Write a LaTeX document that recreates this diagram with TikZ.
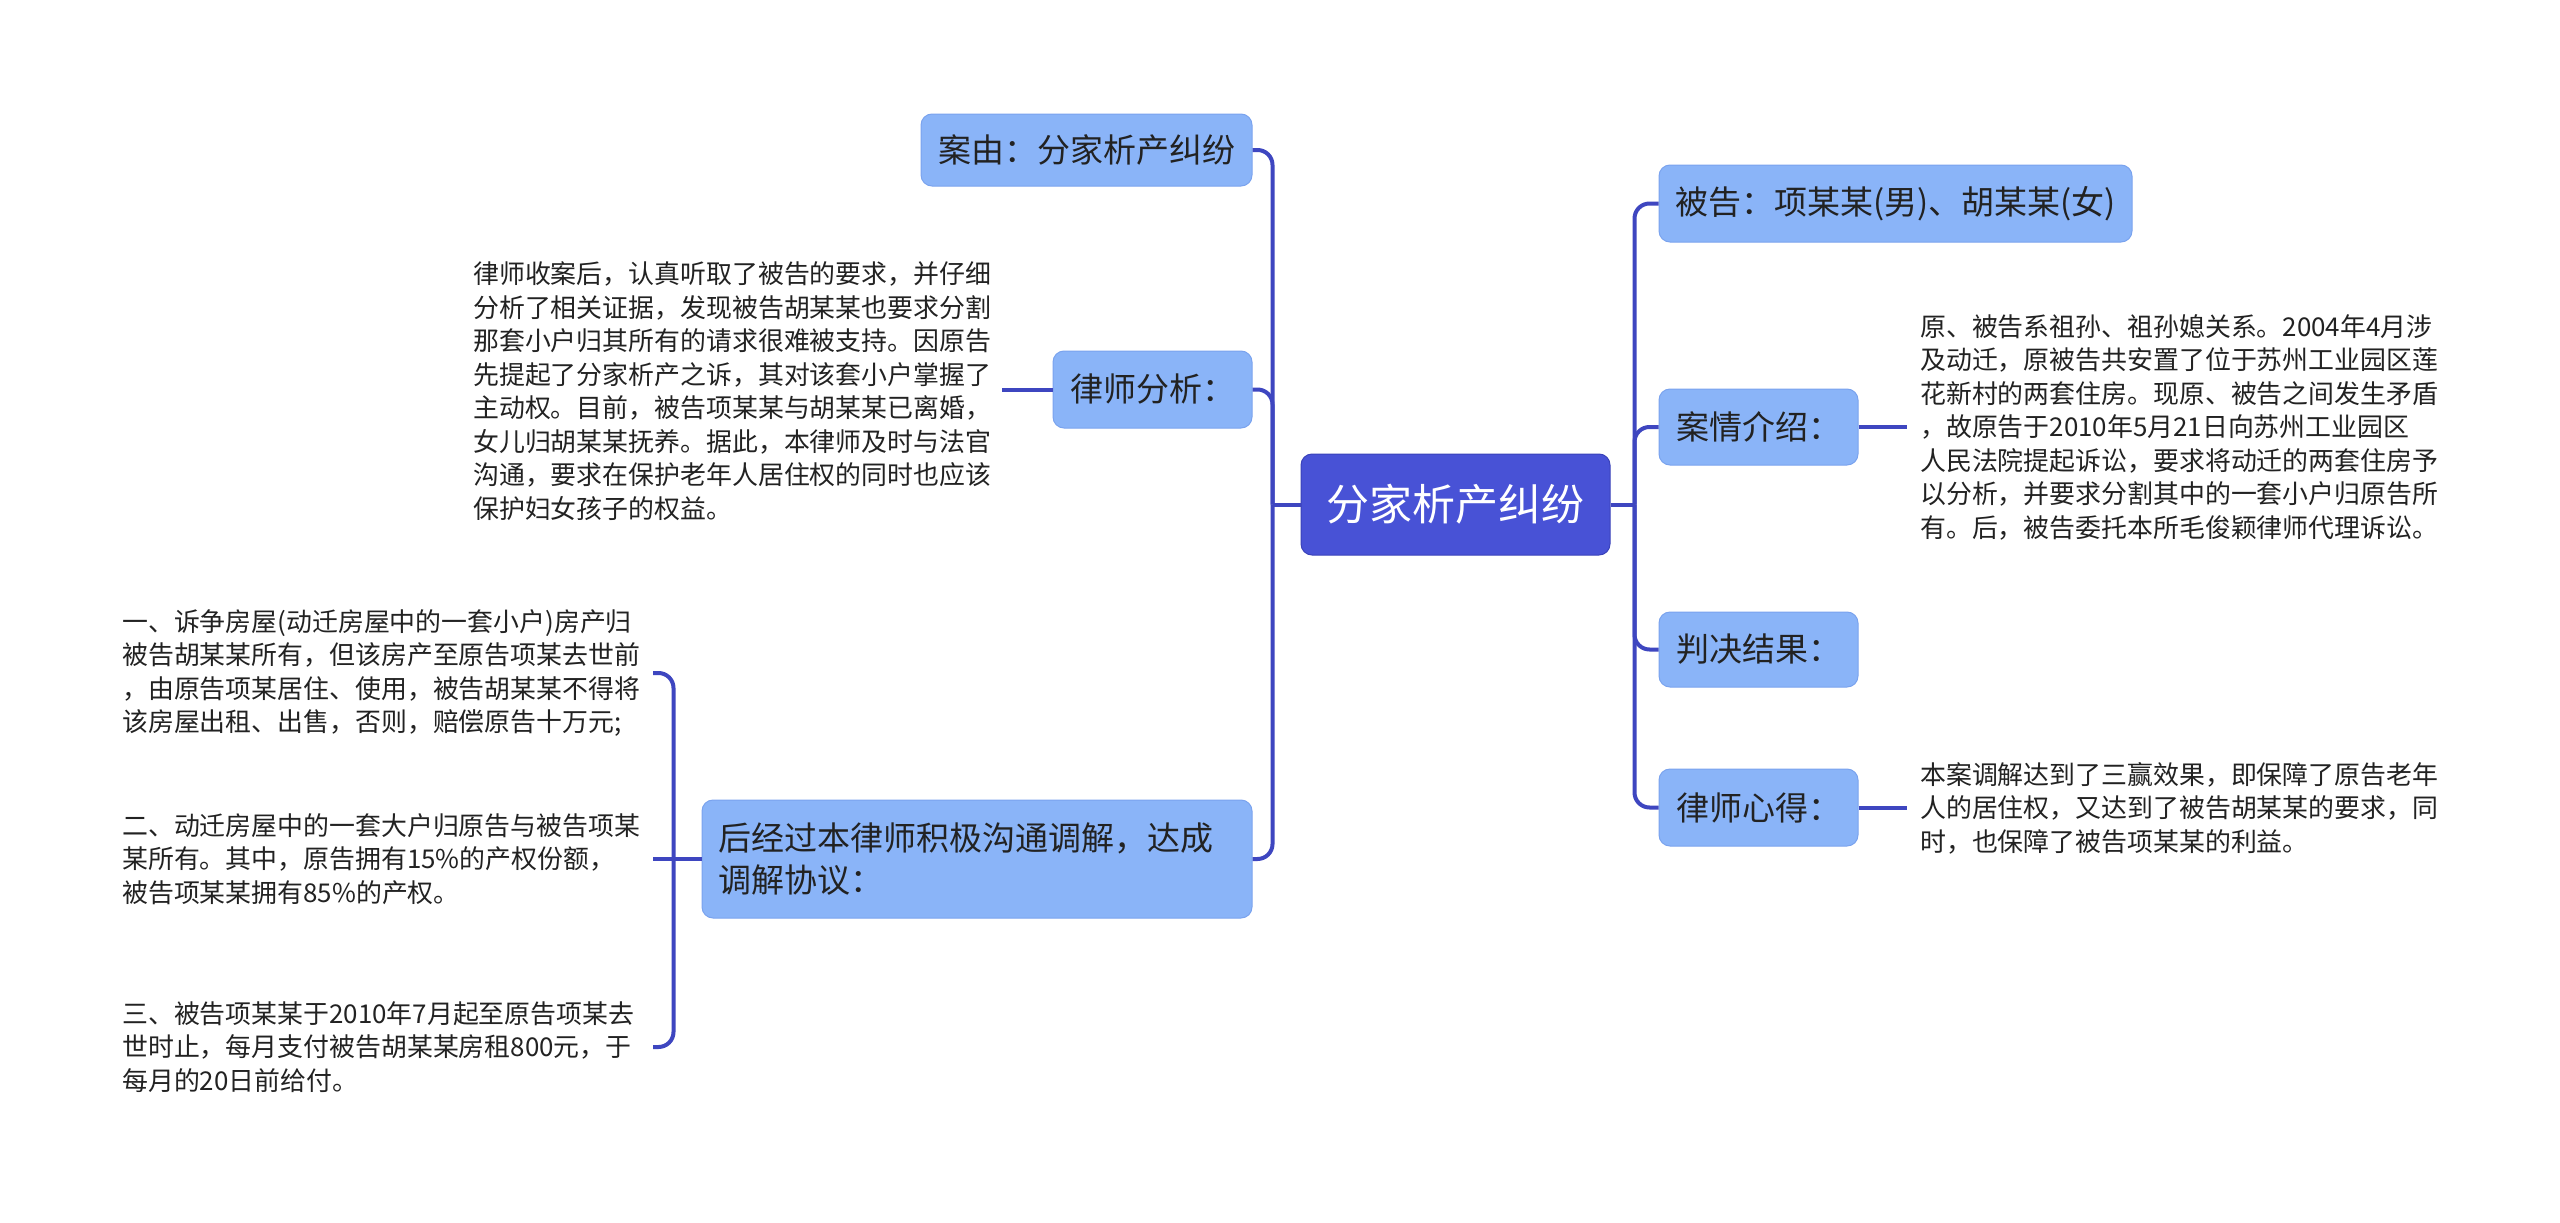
\documentclass[tikz,border=0pt]{standalone}
\usepackage{fontspec}
\setmainfont{Noto Sans CJK SC}
\usetikzlibrary{calc}
\definecolor{boxfill}{RGB}{138,180,248}
\definecolor{boxline}{RGB}{122,163,238}
\definecolor{rootfill}{RGB}{72,82,214}
\definecolor{rootline}{RGB}{58,66,186}
\definecolor{linkc}{RGB}{62,70,192}
\definecolor{txt}{RGB}{34,34,34}
\begin{document}
\begin{tikzpicture}[x=1pt,y=-1pt,
  topic/.style={draw=boxline, line width=1pt, fill=boxfill, rounded corners=11pt, text=txt, font=\fontsize{33}{42}\selectfont, inner sep=0pt},
  rootbox/.style={draw=rootline, line width=1pt, fill=rootfill, rounded corners=11pt, text=white, font=\fontsize{43}{50}\selectfont, minimum width=309pt, minimum height=101pt, inner sep=0pt},
  para/.style={anchor=west, align=left, text=txt, font=\fontsize{25.9}{33.5}\selectfont, inner sep=0pt},
  link/.style={draw=linkc, line width=4pt, rounded corners=15pt},
]
\useasboundingbox (0,0) rectangle (2560,1223);
\fill[white] (0,0) rectangle (2560,1223);

% central topic
\node[rootbox] (root) at (1455.5,504.5) {分家析产纠纷};

% left topics
\node[topic, minimum width=331pt, minimum height=72pt] (n1) at (1086.5,150) {案由：分家析产纠纷};
\node[topic, minimum width=199pt, minimum height=77pt] (n2) at (1152.5,389.5) {律师分析：};
\node[topic, minimum width=550pt, minimum height=118pt, text width=518pt, align=left] (n3) at (977,859) {后经过本律师积极沟通调解，达成\\调解协议：};

% right topics
\node[topic, minimum width=473pt, minimum height=77pt] (r1) at (1895.5,203.5) {被告：项某某(男)、胡某某(女)};
\node[topic, minimum width=199pt, minimum height=76pt] (r2) at (1758.5,427) {案情介绍：};
\node[topic, minimum width=199pt, minimum height=75pt] (r3) at (1758.5,649.5) {判决结果：};
\node[topic, minimum width=199pt, minimum height=77pt] (r4) at (1758.5,807.5) {律师心得：};

% paragraphs
\node[para] (la) at (473,391) {律师收案后，认真听取了被告的要求，并仔细\\分析了相关证据，发现被告胡某某也要求分割\\那套小户归其所有的请求很难被支持。因原告\\先提起了分家析产之诉，其对该套小户掌握了\\主动权。目前，被告项某某与胡某某已离婚，\\女儿归胡某某抚养。据此，本律师及时与法官\\沟通，要求在保护老年人居住权的同时也应该\\保护妇女孩子的权益。};
\node[para] (i1) at (122,673) {一、诉争房屋(动迁房屋中的一套小户)房产归\\被告胡某某所有，但该房产至原告项某去世前\\，由原告项某居住、使用，被告胡某某不得将\\该房屋出租、出售，否则，赔偿原告十万元;};
\node[para] (i2) at (122,859) {二、动迁房屋中的一套大户归原告与被告项某\\某所有。其中，原告拥有15\%的产权份额，\\被告项某某拥有85\%的产权。};
\node[para] (i3) at (122,1047) {三、被告项某某于2010年7月起至原告项某去\\世时止，每月支付被告胡某某房租800元，于\\每月的20日前给付。};
\node[para] (case) at (1920,427) {原、被告系祖孙、祖孙媳关系。2004年4月涉\\及动迁，原被告共安置了位于苏州工业园区莲\\花新村的两套住房。现原、被告之间发生矛盾\\，故原告于2010年5月21日向苏州工业园区\\人民法院提起诉讼，要求将动迁的两套住房予\\以分析，并要求分割其中的一套小户归原告所\\有。后，被告委托本所毛俊颖律师代理诉讼。};
\node[para] (heart) at (1920,808) {本案调解达到了三赢效果，即保障了原告老年\\人的居住权，又达到了被告胡某某的要求，同\\时，也保障了被告项某某的利益。};

% junction coordinates
\coordinate (jl) at ($(root.west)+(-28,0)$);
\coordinate (jr) at ($(root.east)+(24,0)$);
\coordinate (jb) at ($(n3.west)+(-28,0)$);
\coordinate (bx) at (653,0);
\coordinate (laend) at ($(la.east)+(11,0)$);
\coordinate (caseend) at ($(case.west)+(-13,0)$);
\coordinate (heartend) at ($(heart.west)+(-13,0)$);

% left connectors
\draw[link] (root.west) -- (jl);
\draw[link] (jl) |- (n1.east);
\draw[link] (jl) |- (n2.east);
\draw[link] (jl) |- (n3.east);
\draw[link] (n2.west) -- (n2.west -| laend);

% bracket to agreement items
\draw[link] (n3.west) -- (jb);
\draw[link] (jb) |- (bx |- i1.east);
\draw[link] (jb) -- (bx |- jb);
\draw[link] (jb) |- (bx |- i3.east);

% right connectors
\draw[link] (root.east) -- (jr);
\draw[link] (jr) |- (r1.west);
\draw[link] (jr) |- (r2.west);
\draw[link] (jr) |- (r3.west);
\draw[link] (jr) |- (r4.west);
\draw[link] (r2.east) -- (r2.east -| caseend);
\draw[link] (r4.east) -- (r4.east -| heartend);
\end{tikzpicture}
\end{document}
